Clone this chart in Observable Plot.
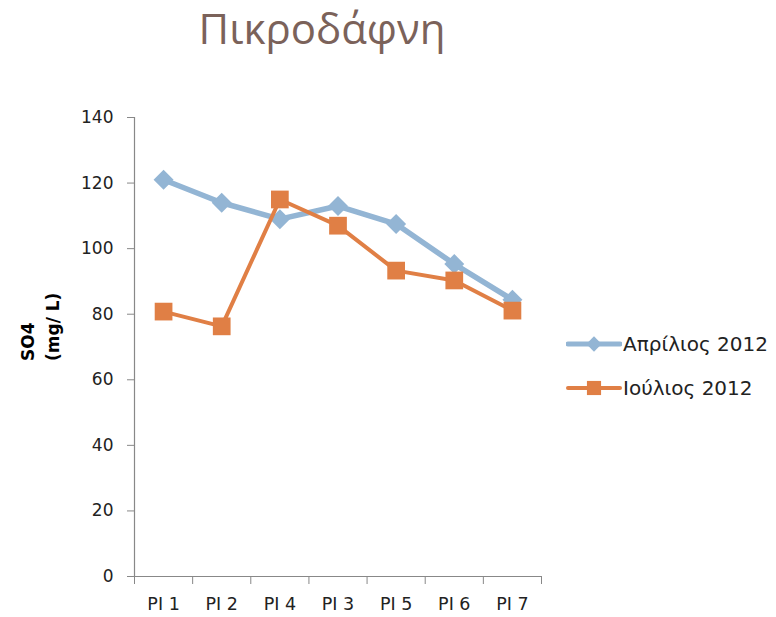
<!DOCTYPE html>
<html>
<head>
<meta charset="utf-8">
<script src="https://cdn.jsdelivr.net/npm/d3@7"></script>
<script src="https://cdn.jsdelivr.net/npm/@observablehq/plot@0.6"></script>
<style>
  html, body { margin: 0; padding: 0; background: #fff; }
  #wrap { position: relative; width: 776px; height: 617px; }
  #title { position: absolute; left: 0; top: 7px; width: 644px; text-align: center;
    font-family: "Open Sans", "DejaVu Sans", sans-serif; font-size: 42px; line-height: 42px; color: #7b625a; }
  #chart { position: absolute; left: 0; top: 80px; }
  #legend { position: absolute; left: 566px; top: 322px; font-family: "DejaVu Sans", sans-serif; font-size: 20px; color: #222; }
  .item { display: flex; align-items: center; height: 44px; }
  .item svg { margin-right: 1px; }
</style>
</head>
<body>
<div id="wrap">
  <div id="title">Πικροδάφνη</div>
  <div id="chart"></div>
  <div id="legend"></div>
</div>
<script>
const categories = ["PI 1", "PI 2", "PI 4", "PI 3", "PI 5", "PI 6", "PI 7"];
const april = [121, 114, 109, 113, 107.5, 95.3, 84.4];
const july = [80.8, 76.3, 115, 107, 93.3, 90.3, 81.1];
const seriesNames = ["Απρίλιος 2012", "Ιούλιος 2012"];
const seriesColors = ["#93b5d4", "#e07f45"];
const yTicks = [0, 20, 40, 60, 80, 100, 120, 140];

const rows = (vals) => vals.map((v, i) => ({ pos: i + 0.5, value: v, cat: categories[i] }));
const aprRows = rows(april);
const julRows = rows(july);

const plot = Plot.plot({
  width: 776,
  height: 537,
  marginLeft: 134,
  marginRight: 235,
  marginTop: 37,
  marginBottom: 41,
  style: { fontFamily: "DejaVu Sans, sans-serif", color: "#222", background: "#fff", overflow: "visible" },
  x: { domain: [0, categories.length], axis: null },
  y: { domain: [0, 140], axis: null },
  marks: [
    Plot.axisY({ ticks: yTicks, tickSize: 7, tickPadding: 14, fontSize: 17, stroke: "#888", fill: "#222", label: null }),
    Plot.axisX({ ticks: d3.range(categories.length + 1), tickSize: 8, tickFormat: () => "", stroke: "#888", label: null }),
    Plot.axisX({ ticks: aprRows.map(d => d.pos), tickSize: 0, tickPadding: 21, fontSize: 17.5, fill: "#222", label: null,
      tickFormat: (p) => categories[Math.round(p - 0.5)] }),
    Plot.ruleY([0], { stroke: "#888", strokeWidth: 1.2 }),
    Plot.ruleX([0], { stroke: "#888", strokeWidth: 1.2 }),
    Plot.text(["SO4\n(mg/ L)"], { frameAnchor: "left", dx: -96, dy: 14, rotate: -90, fontSize: 17, fontWeight: "bold",
      lineHeight: 1.5, fill: "#000" }),
    Plot.line(aprRows, { x: "pos", y: "value", stroke: seriesColors[0], strokeWidth: 5.5 }),
    Plot.dot(aprRows, { x: "pos", y: "value", symbol: "diamond2", r: 9, fill: seriesColors[0], stroke: "none" }),
    Plot.line(julRows, { x: "pos", y: "value", stroke: seriesColors[1], strokeWidth: 4 }),
    Plot.dot(julRows, { x: "pos", y: "value", symbol: "square", r: 10, fill: seriesColors[1], stroke: "none" })
  ]
});
document.getElementById("chart").appendChild(plot);

// legend
const legend = d3.select("#legend");
const symbols = [d3.symbolDiamond2, d3.symbolSquare];
const sizes = [150, 200];
seriesNames.forEach((name, i) => {
  const item = legend.append("div").attr("class", "item");
  const svg = item.append("svg").attr("width", 56).attr("height", 24);
  svg.append("line").attr("x1", 2).attr("x2", 54).attr("y1", 12).attr("y2", 12)
    .attr("stroke", seriesColors[i]).attr("stroke-width", i === 0 ? 5 : 4).attr("stroke-linecap", "round");
  svg.append("path").attr("transform", "translate(28,12)")
    .attr("d", d3.symbol(symbols[i], sizes[i])()).attr("fill", seriesColors[i]);
  item.append("span").text(name);
});
</script>
</body>
</html>
